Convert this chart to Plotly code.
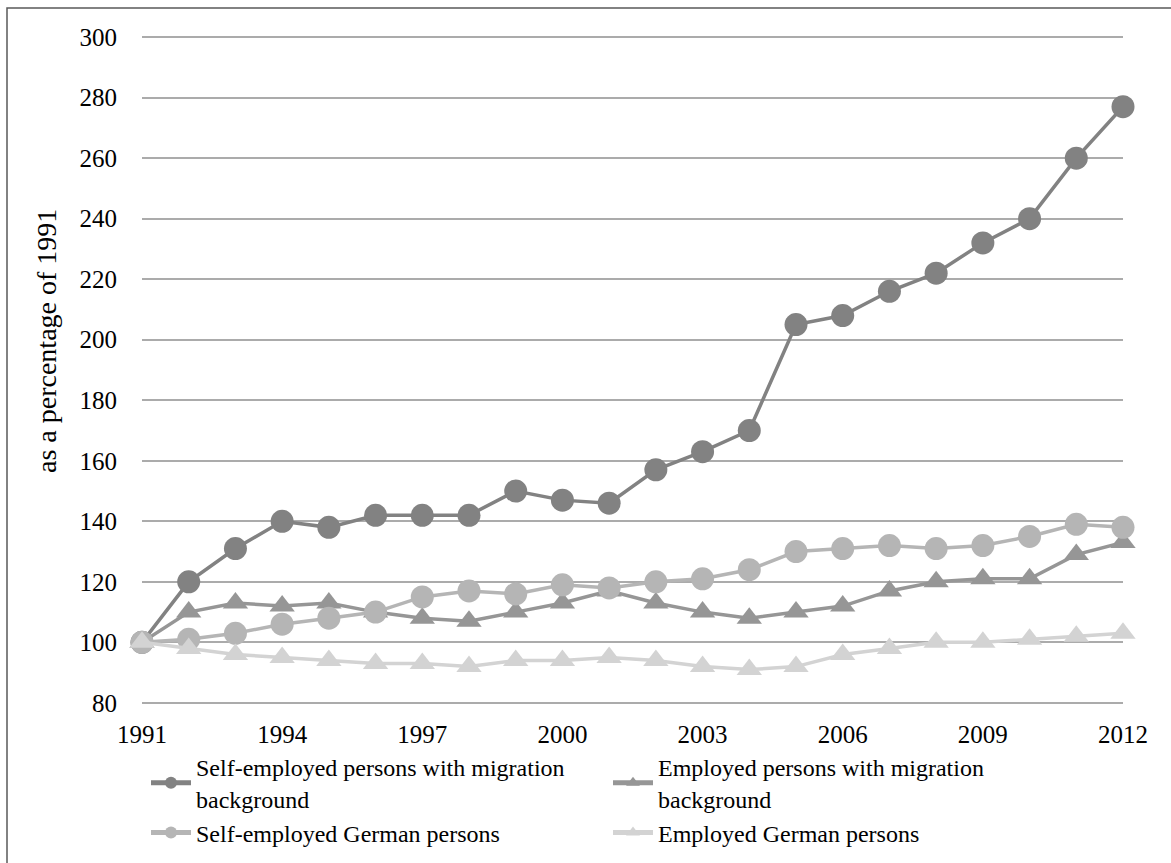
import plotly.graph_objects as go

years = list(range(1991, 2013))
self_emp_migration = [100, 120, 131, 140, 138, 142, 142, 142, 150, 147, 146,
                      157, 163, 170, 205, 208, 216, 222, 232, 240, 260, 277]
emp_migration = [100, 110, 113, 112, 113, 110, 108, 107, 110, 113, 117,
                 113, 110, 108, 110, 112, 117, 120, 121, 121, 129, 133]
self_emp_german = [100, 101, 103, 106, 108, 110, 115, 117, 116, 119, 118,
                   120, 121, 124, 130, 131, 132, 131, 132, 135, 139, 138]
emp_german = [100, 98, 96, 95, 94, 93, 93, 92, 94, 94, 95,
              94, 92, 91, 92, 96, 98, 100, 100, 101, 102, 103]

series_names = [
    "Self-employed persons with migration<br>background",
    "Employed persons with migration<br>background",
    "Self-employed German persons",
    "Employed German persons",
]
x_ticks = [1991, 1994, 1997, 2000, 2003, 2006, 2009, 2012]
y_ticks = [80, 100, 120, 140, 160, 180, 200, 220, 240, 260, 280, 300]
y_title = "as a percentage of 1991"

W, H = 1171, 863
ML, MR, MT, MB = 142, 48, 35, 158
PW, PH = W - ML - MR, H - MT - MB

styles = [
    dict(color="#828282", symbol="circle", size=23),
    dict(color="#969696", symbol="triangle-up", size=22),
    dict(color="#b5b5b5", symbol="circle", size=23),
    dict(color="#d3d3d3", symbol="triangle-up", size=22),
]
values = [self_emp_migration, emp_migration, self_emp_german, emp_german]

fig = go.Figure()
for name, vals, st in zip(series_names, values, styles):
    fig.add_trace(go.Scatter(
        x=years, y=vals, name=name, mode="lines+markers",
        line=dict(color=st["color"], width=3.5),
        marker=dict(color=st["color"], symbol=st["symbol"], size=st["size"]),
        cliponaxis=False,
    ))

font = "Liberation Serif"

fig.update_layout(
    width=W, height=H,
    margin=dict(l=ML, r=MR, t=MT, b=MB, pad=0, autoexpand=False),
    paper_bgcolor="white", plot_bgcolor="white",
    font=dict(family=font, size=24, color="black"),
    showlegend=True,
    legend=dict(
        orientation="h", x=(146 - ML) / PW, xanchor="left",
        y=-(745 - MT - PH) / PH, yanchor="top",
        entrywidth=407, entrywidthmode="pixels",
        font=dict(family=font, size=24, color="black"),
        itemwidth=40, itemsizing="constant", tracegroupgap=0, valign="middle",
        bgcolor="rgba(0,0,0,0)",
    ),
    xaxis=dict(
        range=[1991, 2012], tickvals=x_ticks, ticktext=[str(t) for t in x_ticks],
        showgrid=False, zeroline=False, showline=False, ticks="",
        tickfont=dict(family=font, size=25), ticklabelstandoff=12,
    ),
    yaxis=dict(
        range=[79.3, 300.7], tickvals=y_ticks, showgrid=True,
        gridcolor="#ababab", gridwidth=1.5, zeroline=False, showline=False,
        ticks="", tickfont=dict(family=font, size=25), ticklabelstandoff=24,
    ),
)

# category axis line along the lowest value tick
fig.add_shape(
    type="line", xref="paper", yref="y",
    x0=0, x1=1, y0=y_ticks[0], y1=y_ticks[0],
    line=dict(color="#8a8a8a", width=2), layer="below",
)

# rotated y-axis title
fig.add_annotation(
    text=y_title, textangle=-90, showarrow=False,
    xref="paper", yref="paper",
    x=(47 - ML) / PW, y=1 - (341 - MT) / PH,
    xanchor="center", yanchor="middle",
    font=dict(family=font, size=28, color="black"),
)

# outer chart frame
fig.add_shape(
    type="rect", xref="paper", yref="paper",
    x0=(7 - ML) / PW, x1=(W + 5 - ML) / PW,
    y0=-(H + 5 - MT - PH) / PH, y1=1 + (MT - 8) / PH,
    line=dict(color="#5a5a5a", width=1.5), layer="below",
)

fig.write_html("out.html")
